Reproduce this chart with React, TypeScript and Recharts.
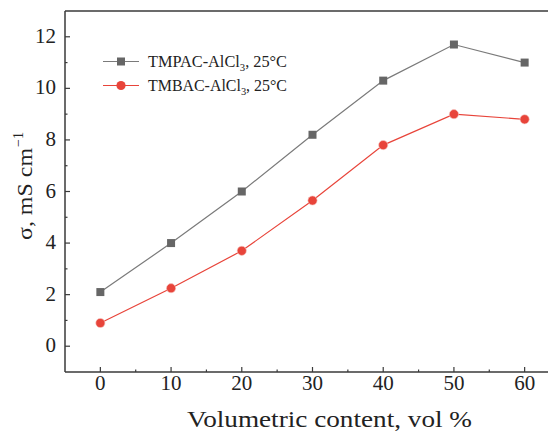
import React from 'react';
import { LineChart, Line, XAxis, YAxis, ReferenceLine } from 'recharts';

const volContent = [0, 10, 20, 30, 40, 50, 60];
const tmpacValues = [2.1, 4.0, 6.0, 8.2, 10.3, 11.7, 11.0];
const tmbacValues = [0.9, 2.25, 3.7, 5.65, 7.8, 9.0, 8.8];
const xTicks = [0, 5, 10, 15, 20, 25, 30, 35, 40, 45, 50, 55, 60];
const yTicks = [0, 1, 2, 3, 4, 5, 6, 7, 8, 9, 10, 11, 12];
const xLabelEvery = 10;
const yLabelEvery = 2;

const data = volContent.map((v, i) => ({ x: v, tmpac: tmpacValues[i], tmbac: tmbacValues[i] }));

const FONT = '"Liberation Serif", "Times New Roman", serif';
const AXIS = '#3a3a3a';
const GRAY_LINE = '#7a7a7a';
const GRAY_MARK = '#666666';
const RED = '#e8443a';

const XTick = (props: any) => {
  const { x, y, payload } = props;
  const major = payload.value % xLabelEvery === 0;
  const ay = y - 8;
  return (
    <g>
      <line x1={x} x2={x} y1={ay} y2={ay - (major ? 5 : 2.5)} stroke={AXIS} strokeWidth={1.2} />
      {major && (
        <text x={x} y={ay + 18} textAnchor="middle" fontFamily={FONT} fontSize={21} fill="#222">
          {payload.value}
        </text>
      )}
    </g>
  );
};

const YTick = (props: any) => {
  const { x, y, payload } = props;
  const major = payload.value % yLabelEvery === 0;
  const ax = x + 8;
  return (
    <g>
      <line x1={ax} x2={ax + (major ? 5 : 2.5)} y1={y} y2={y} stroke={AXIS} strokeWidth={1.2} />
      {major && (
        <text x={ax - 9} y={y + 6} textAnchor="end" fontFamily={FONT} fontSize={21} fill="#222">
          {payload.value}
        </text>
      )}
    </g>
  );
};

const SquareDot = (props: any) => {
  const { cx, cy, index } = props;
  return <rect key={`sq-${index}`} x={cx - 4} y={cy - 4} width={8} height={8} fill={GRAY_MARK} />;
};

const CircleDot = (props: any) => {
  const { cx, cy, index } = props;
  return <circle key={`ci-${index}`} cx={cx} cy={cy} r={4.6} fill={RED} stroke="#f5c9c5" strokeWidth={0.6} />;
};

const legendItems = [
  { name: 'TMPAC-AlCl', sub: '3', tail: ', 25°C', color: GRAY_LINE, marker: 'square' },
  { name: 'TMBAC-AlCl', sub: '3', tail: ', 25°C', color: RED, marker: 'circle' },
];

const LegendOverlay = () => (
  <svg width={548} height={433} style={{ position: 'absolute', left: 0, top: 0, pointerEvents: 'none' }}>
    {legendItems.map((it, i) => {
      const cy = 61.5 + i * 24;
      return (
        <g key={it.name}>
          <line x1={103} x2={139} y1={cy} y2={cy} stroke={it.color} strokeWidth={1.2} />
          {it.marker === 'square' ? (
            <rect x={117} y={cy - 4} width={8} height={8} fill={GRAY_MARK} />
          ) : (
            <circle cx={121} cy={cy} r={4.6} fill={RED} />
          )}
          <text
            x={148}
            y={cy + 5.5}
            fontFamily={FONT}
            fontSize={16}
            fill="#222"
            textLength={139}
            lengthAdjust="spacingAndGlyphs"
          >
            {it.name}
            <tspan dy={3.5} fontSize={10.5}>{it.sub}</tspan>
            <tspan dy={-3.5}>{it.tail}</tspan>
          </text>
        </g>
      );
    })}
  </svg>
);

const YLabel = () => {
  const bx = 31.5;
  const by = 240;
  return (
    <text
      x={bx}
      y={by}
      transform={`rotate(-90, ${bx}, ${by})`}
      textAnchor="start"
      fontFamily={FONT}
      fontSize={22}
      fill="#222"
    >
      <tspan textLength={92} lengthAdjust="spacingAndGlyphs">σ, mS cm</tspan>
      <tspan dx={1} dy={-9} fontSize={14}>−1</tspan>
    </text>
  );
};

const XLabel = (props: any) => {
  const vb = props.viewBox || { x: 65, y: 372 };
  return (
    <text
      x={vb.x + 122}
      y={vb.y + 54.7}
      fontFamily={FONT}
      fontSize={22.5}
      fill="#222"
      textLength={285}
      lengthAdjust="spacingAndGlyphs"
    >
      Volumetric content, vol %
    </text>
  );
};

export default function App() {
  return (
    <div style={{ position: 'absolute', left: 0, top: 0, width: 548, height: 433, overflow: 'hidden', background: '#fff' }}>
      <LineChart width={570} height={433} data={data} margin={{ top: 11, right: 10, left: 0, bottom: 0 }}>
        <XAxis
          dataKey="x"
          type="number"
          domain={[-5, 65]}
          ticks={xTicks}
          interval={0}
          tickLine={false}
          tickSize={0}
          tickMargin={8}
          tick={<XTick />}
          height={61}
          stroke={AXIS}
          strokeWidth={1.5}
          label={<XLabel />}
        />
        <YAxis
          type="number"
          domain={[-1, 13]}
          ticks={yTicks}
          interval={0}
          tickLine={false}
          tickSize={0}
          tickMargin={8}
          tick={<YTick />}
          width={65}
          stroke={AXIS}
          strokeWidth={1.5}
          label={<YLabel />}
        />
        <ReferenceLine y={13} stroke={AXIS} strokeWidth={1.5} />
        <Line
          dataKey="tmpac"
          name="TMPAC-AlCl3, 25°C"
          stroke={GRAY_LINE}
          strokeWidth={1.2}
          dot={<SquareDot />}
          activeDot={false}
          isAnimationActive={false}
        />
        <Line
          dataKey="tmbac"
          name="TMBAC-AlCl3, 25°C"
          stroke={RED}
          strokeWidth={1.2}
          dot={<CircleDot />}
          activeDot={false}
          isAnimationActive={false}
        />
      </LineChart>
      <LegendOverlay />
    </div>
  );
}
